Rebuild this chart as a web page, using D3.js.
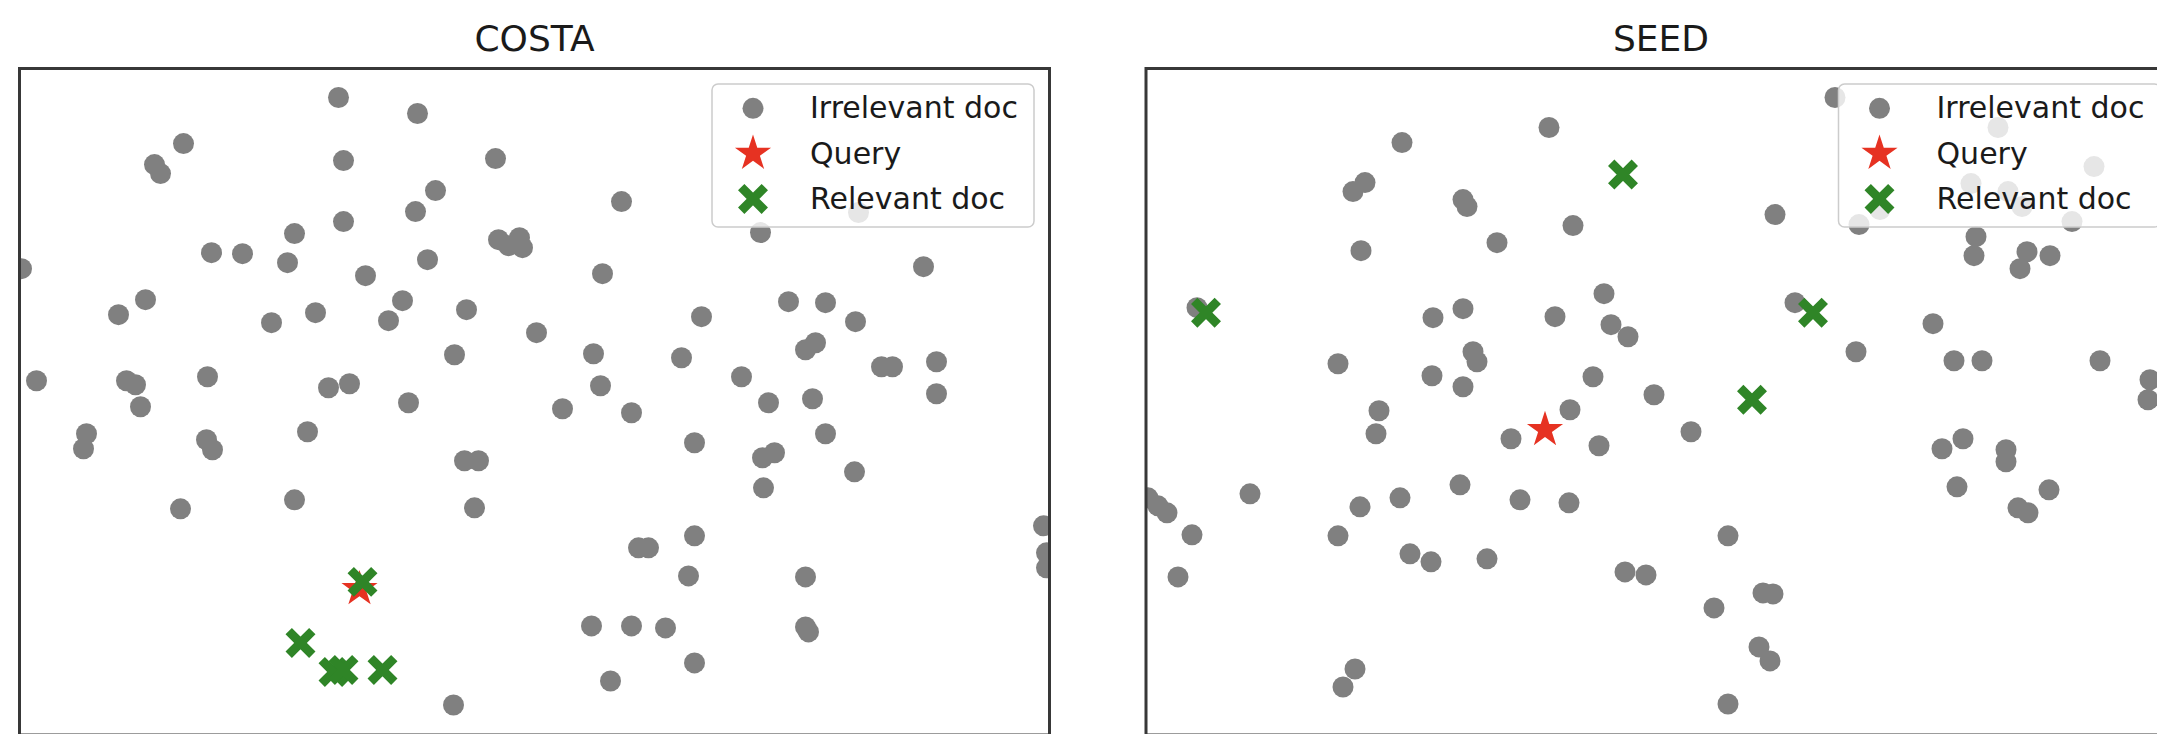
<!DOCTYPE html>
<html><head><meta charset="utf-8">
<script src="https://cdn.jsdelivr.net/npm/d3@7"></script>
<style>html,body{margin:0;padding:0;background:#fff}svg{display:block}</style>
</head><body>
<script>
// ---- data (embedding coordinates, arbitrary units) ----
const panelTitles = ["COSTA", "SEED"];
const legendLabels = ["Irrelevant doc", "Query", "Relevant doc"];

const costaIrrelevant = [
 [319,637],[398,621],[164,591],[135,570],[141,561],[324,574],[476,576],[416,544],[396,523],[324,513],[275,501],
 [479,495],[489,489],[500,497],[503,487],
 [192,482],[223,481],[268,472],[408,475],[2,466],[346,459],[126,435],[99,420],[383,434],[296,422],[252,412],[369,414],[447,425],[517,402],[435,380],
 [602,533],[741,502],[839,522],[904,468],[583,461],[769,433],[806,432],[836,413],[682,418],[574,381],[662,377],[786,385],[796,392],[862,368],[873,368],[917,373],
 [722,358],[581,349],[543,326],[612,322],[749,332],[793,336],[917,341],[806,301],[675,292],[743,277],[755,282],[835,263],[744,247],[1024,209],[1027,182],[1027,167],
 [675,199],[619,187],[629,187],[669,159],[786,158],[572,109],[612,109],[646,107],[786,108],[789,103],[675,72],[591,54],
 [17,354],[107,354],[116,350],[188,358],[309,347],[330,351],[389,332],[121,328],[67,301],[64,286],[187,295],[193,285],[288,303],[445,274],[459,274],
 [161,226],[275,235],[455,227],[434,30]
];
const costaQuery = [[340,146]];
const costaRelevant = [[343,153],[281,92],[314,63],[324,65],[363,65]];

const seedIrrelevant = [
 [256,592],[403,607],[207,543],[219,552],[317,535],[321,528],[215,484],[351,492],[427,509],[51,427],[287,417],[317,426],[409,418],[458,441],[465,410],[482,398],
 [327,383],[331,373],[192,371],[286,359],[447,358],
 [689,637],[852,607],[948,568],[825,551],[862,543],[876,528],[926,513],[713,510],[734,525],
 [629,520],[830,498],[828,479],[881,483],[874,466],[904,479],[649,432],[787,411],[710,383],[808,374],[836,374],[954,374],[1004,355],[1002,335],
 [317,348],[233,324],[230,301],[424,325],[365,296],[453,289],[508,340],[104,241],[2,237],[12,229],[21,222],[46,200],[32,158],[314,250],[254,237],[214,228],[192,199],
 [374,235],[423,232],[264,181],[285,173],[341,176],[479,163],[500,160],[209,66],[197,48],
 [545,303],[582,199],[568,127],[617,142],[627,141],[613,88],[624,74],[582,31],[796,286],[817,296],[860,285],[860,273],[811,248],[903,245],[872,227],[882,222]
];
const seedQuery = [[399,305]];
const seedRelevant = [[477,560],[60,422],[667,422],[606,335]];

const panels = [
  {title: panelTitles[0], irr: costaIrrelevant, query: costaQuery, rel: costaRelevant, left: 19.5},
  {title: panelTitles[1], irr: seedIrrelevant, query: seedQuery, rel: seedRelevant, left: 1146}
];

// ---- layout / style ----
const W = 2157, H = 734;
const axW = 1030, axTop = 68.5, axBottom = 735;
const xDomain = [0, 1030], yDomain = [0, 666];
const GRAY = "#808080", RED = "#e63222", GREEN = "#2f8527";
const DOT_R = 10.5, STAR_R = 19, X_HALF = 11.8, X_W = 9;

function starPath(R) {
  const pts = [];
  for (let i = 0; i < 10; i++) {
    const a = -Math.PI / 2 + i * Math.PI / 5;
    const r = i % 2 === 0 ? R : R * 0.381966;
    pts.push([r * Math.cos(a), r * Math.sin(a)]);
  }
  return "M" + pts.map(p => p[0].toFixed(2) + "," + p[1].toFixed(2)).join("L") + "Z";
}
function xPath(s) {
  return `M${-s},${-s}L${s},${s}M${-s},${s}L${s},${-s}`;
}

const svg = d3.select("body").append("svg").attr("width", W).attr("height", H)
  .style("font-family", "'DejaVu Sans', sans-serif");
svg.append("rect").attr("width", W).attr("height", H).attr("fill", "#fff");

panels.forEach((p, pi) => {
  const x = d3.scaleLinear().domain(xDomain).range([p.left, p.left + axW]);
  const y = d3.scaleLinear().domain(yDomain).range([axBottom, axTop]);
  const g = svg.append("g");
  const clipId = "clip" + pi;
  g.append("clipPath").attr("id", clipId).append("rect")
    .attr("x", p.left).attr("y", axTop).attr("width", axW).attr("height", axBottom - axTop);

  const plot = g.append("g").attr("clip-path", `url(#${clipId})`);
  plot.selectAll("circle.irr").data(p.irr).join("circle").attr("class", "irr")
    .attr("cx", d => x(d[0])).attr("cy", d => y(d[1])).attr("r", DOT_R).attr("fill", GRAY);
  plot.selectAll("path.q").data(p.query).join("path").attr("class", "q")
    .attr("d", starPath(STAR_R)).attr("transform", d => `translate(${x(d[0])},${y(d[1])})`).attr("fill", RED);
  plot.selectAll("path.rel").data(p.rel).join("path").attr("class", "rel")
    .attr("d", xPath(X_HALF)).attr("transform", d => `translate(${x(d[0])},${y(d[1])})`)
    .attr("fill", "none").attr("stroke", GREEN).attr("stroke-width", X_W);

  // frame
  g.append("rect").attr("x", p.left).attr("y", axTop).attr("width", axW).attr("height", axBottom - axTop)
    .attr("fill", "none").attr("stroke", "#383838").attr("stroke-width", 3);

  // title
  g.append("text").attr("x", p.left + axW / 2).attr("y", 51).attr("text-anchor", "middle")
    .attr("font-size", 36).attr("fill", "#1a1a1a").text(p.title);

  // legend
  const lw = 322, lh = 143;
  const lx = p.left + axW - 15.5 - lw, ly = 84;
  const lg = g.append("g");
  lg.append("rect").attr("x", lx).attr("y", ly).attr("width", lw).attr("height", lh).attr("rx", 6)
    .attr("fill", "#fff").attr("fill-opacity", 0.8).attr("stroke", "#cccccc").attr("stroke-width", 1.5);
  legendLabels.forEach((lab, i) => {
    const cy = 108.3 + i * 45.3, cx = lx + 41;
    if (i === 0) lg.append("circle").attr("cx", cx).attr("cy", cy).attr("r", DOT_R).attr("fill", GRAY);
    if (i === 1) lg.append("path").attr("d", starPath(STAR_R)).attr("transform", `translate(${cx},${cy})`).attr("fill", RED);
    if (i === 2) lg.append("path").attr("d", xPath(X_HALF)).attr("transform", `translate(${cx},${cy})`)
      .attr("fill", "none").attr("stroke", GREEN).attr("stroke-width", X_W);
    lg.append("text").attr("x", lx + 98).attr("y", cy + 10).attr("font-size", 30).attr("fill", "#1a1a1a").text(lab);
  });
});
</script>
</body></html>
